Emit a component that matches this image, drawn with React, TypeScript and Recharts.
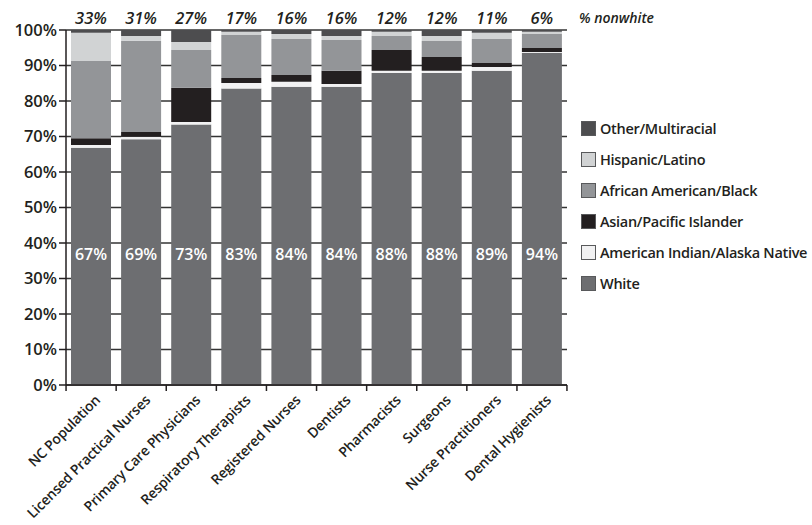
import React from "react";
import { Bar, BarChart, CartesianGrid, LabelList, XAxis, YAxis } from "recharts";

const categories = [
  "NC Population",
  "Licensed Practical Nurses",
  "Primary Care Physicians",
  "Respiratory Therapists",
  "Registered Nurses",
  "Dentists",
  "Pharmacists",
  "Surgeons",
  "Nurse Practitioners",
  "Dental Hygienists",
];
const white = [66.8, 69.2, 73.4, 83.5, 84.0, 84.0, 87.9, 87.9, 88.5, 93.6];
const amIndian = [0.8, 0.7, 0.7, 1.6, 1.4, 0.8, 0.6, 0.6, 1.1, 0.2];
const asian = [1.9, 1.4, 9.6, 1.4, 1.9, 3.7, 5.9, 3.9, 1.1, 1.1];
const black = [21.8, 25.7, 10.7, 12.1, 10.2, 8.7, 3.9, 4.5, 6.8, 4.0];
const hispanic = [7.9, 1.3, 2.2, 0.9, 1.4, 1.1, 1.2, 1.4, 1.7, 0.6];
const other = [0.8, 1.7, 3.4, 0.5, 1.1, 1.7, 0.5, 1.7, 0.8, 0.5];
const whiteLabels = ["67%", "69%", "73%", "83%", "84%", "84%", "88%", "88%", "89%", "94%"];
const nonwhiteLabels = ["33%", "31%", "27%", "17%", "16%", "16%", "12%", "12%", "11%", "6%"];
const yTicks = [0, 10, 20, 30, 40, 50, 60, 70, 80, 90, 100];

const FONT = "'Open Sans', sans-serif";
const INK = "#231f20";

// bottom to top
const series = [
  { key: "white", name: "White", color: "#6d6e71" },
  { key: "amIndian", name: "American Indian/Alaska Native", color: "#f1f1f2" },
  { key: "asian", name: "Asian/Pacific Islander", color: "#231f20" },
  { key: "black", name: "African American/Black", color: "#939598" },
  { key: "hispanic", name: "Hispanic/Latino", color: "#d1d3d4" },
  { key: "other", name: "Other/Multiracial", color: "#4d4d4f" },
];

const data = categories.map((name, i) => ({
  name,
  white: white[i],
  amIndian: amIndian[i],
  asian: asian[i],
  black: black[i],
  hispanic: hispanic[i],
  other: other[i],
  whiteLabel: whiteLabels[i],
  nonwhite: nonwhiteLabels[i],
}));

function CategoryTick(props: any) {
  const { x, y, payload } = props;
  const half = 25;
  const ax = x + 10;
  const ay = y + 8;
  return (
    <g>
      <line x1={x - half} y1={y - 8} x2={x - half} y2={y - 2} stroke={INK} strokeWidth={1.5} />
      {payload.index === categories.length - 1 && (
        <line x1={x + half} y1={y - 8} x2={x + half} y2={y - 2} stroke={INK} strokeWidth={1.5} />
      )}
      <text
        x={ax}
        y={ay}
        transform={`rotate(-45, ${ax}, ${ay})`}
        textAnchor="end"
        fontFamily={FONT}
        fontSize={14}
        fontWeight={600}
        letterSpacing={-0.2}
        fill={INK}
      >
        {payload.value}
      </text>
    </g>
  );
}

function Legend() {
  return (
    <div style={{ position: "absolute", left: 581, top: 113, fontFamily: FONT }}>
      {[...series].reverse().map((s) => (
        <div key={s.key} style={{ display: "flex", alignItems: "center", height: 31 }}>
          <span
            style={{
              width: 13,
              height: 13,
              background: s.color,
              border: "1px solid #58595b",
              marginRight: 4,
              flex: "none",
            }}
          />
          <span
            style={{
              fontSize: 14.5,
              fontWeight: 600,
              letterSpacing: -0.3,
              color: INK,
              whiteSpace: "nowrap",
            }}
          >
            {s.name}
          </span>
        </div>
      ))}
    </div>
  );
}

export default function App() {
  return (
    <div style={{ position: "absolute", left: 0, top: 0, width: 812, height: 525, background: "#fff", overflow: "hidden" }}>
      <BarChart
        width={812}
        height={525}
        data={data}
        margin={{ top: 30, right: 245, bottom: 10, left: 6 }}
        barSize={40}
      >
        <CartesianGrid vertical={false} stroke="#333" strokeWidth={1.5} />
        <XAxis
          dataKey="name"
          interval={0}
          height={130}
          axisLine={{ stroke: INK, strokeWidth: 1.5 }}
          tickLine={false}
          tick={<CategoryTick />}
        />
        <YAxis
          width={60}
          domain={[0, 100]}
          ticks={yTicks}
          allowDataOverflow
          tickFormatter={(v) => `${v}%`}
          axisLine={{ stroke: INK, strokeWidth: 1.5 }}
          tickLine={{ stroke: INK, strokeWidth: 1.5 }}
          tickSize={7}
          tick={{ fontFamily: FONT, fontSize: 16.5, fontWeight: 600, fill: INK }}
        />
        {series.map((s) => (
          <Bar key={s.key} dataKey={s.key} stackId="a" fill={s.color} isAnimationActive={false}>
            {s.key === "white" && (
              <LabelList
                dataKey="whiteLabel"
                content={(p: any) => (
                  <text
                    x={p.x + p.width / 2}
                    y={p.y + p.height - 125}
                    textAnchor="middle"
                    fontFamily={FONT}
                    fontSize={16}
                    fontWeight={600}
                    fill="#fff"
                  >
                    {p.value}
                  </text>
                )}
              />
            )}
            {s.key === "other" && (
              <LabelList
                dataKey="nonwhite"
                content={(p: any) => (
                  <text
                    x={p.x + p.width / 2}
                    y={24}
                    textAnchor="middle"
                    fontFamily={FONT}
                    fontSize={16.5}
                    fontStyle="italic"
                    fontWeight={600}
                    fill={INK}
                  >
                    {p.value}
                  </text>
                )}
              />
            )}
          </Bar>
        ))}
        <text x={579} y={23} fontFamily={FONT} fontSize={14} fontStyle="italic" fontWeight={600} fill={INK}>
          % nonwhite
        </text>
      </BarChart>
      <Legend />
    </div>
  );
}
